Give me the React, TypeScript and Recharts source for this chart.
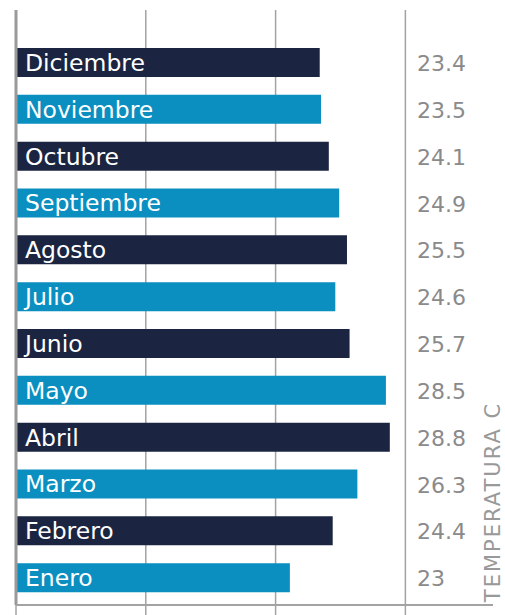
import {
  BarChart,
  Bar,
  XAxis,
  YAxis,
  CartesianGrid,
  LabelList,
  ReferenceLine,
  Cell,
} from "recharts";

// top to bottom, as drawn
const months = [
  "Diciembre",
  "Noviembre",
  "Octubre",
  "Septiembre",
  "Agosto",
  "Julio",
  "Junio",
  "Mayo",
  "Abril",
  "Marzo",
  "Febrero",
  "Enero",
];
// bar lengths (Enero is drawn shorter than its label)
const temps = [23.4, 23.5, 24.1, 24.9, 25.5, 24.6, 25.7, 28.5, 28.8, 26.3, 24.4, 21.1];
// numbers printed in the right column
const tempLabels = ["23.4", "23.5", "24.1", "24.9", "25.5", "24.6", "25.7", "28.5", "28.8", "26.3", "24.4", "23"];
const xTicks = [0, 10, 20, 30];

const barColors = ["#1b2541", "#0a8fc0"];
const gridColor = "#a3a3a3";

const data = months.map((m, i) => ({ month: m, temp: temps[i], label: tempLabels[i] }));

const renderValue = (props: any) => {
  const { y, height, value } = props;
  return (
    <text
      x={417}
      y={y + height / 2 + 1}
      dominantBaseline="central"
      fill="#8a8a8a"
      fontSize={22}
    >
      {value}
    </text>
  );
};

// ticks are lines only, no numbers
const noTickLabel = () => <g />;

const App = () => {
  return (
    <div style={{ position: "absolute", left: 0, top: 0 }}>
      <BarChart
        width={505}
        height={615}
        data={data}
        layout="vertical"
        margin={{ top: 10, right: 12, left: 16, bottom: 0 }}
        style={{ fontFamily: "DejaVu Sans" }}
      >
        <CartesianGrid
          horizontal={false}
          syncWithTicks
          stroke={gridColor}
          strokeWidth={1.5}
        />
        <XAxis
          type="number"
          domain={[0, 36.75]}
          ticks={xTicks}
          tick={noTickLabel}
          tickSize={10}
          height={10}
          axisLine={{ stroke: gridColor, strokeWidth: 2 }}
          tickLine={{ stroke: gridColor, strokeWidth: 1.5 }}
        />
        <YAxis
          type="category"
          dataKey="month"
          hide
          padding={{ top: 29, bottom: 4 }}
        />
        <Bar dataKey="temp" barSize={29} isAnimationActive={false}>
          {data.map((d, i) => (
            <Cell key={d.month} fill={barColors[i % 2]} />
          ))}
          <LabelList
            dataKey="month"
            position="insideLeft"
            offset={9}
            fill="#ffffff"
            fontSize={23.5}
          />
          <LabelList dataKey="label" content={renderValue} />
        </Bar>
        <ReferenceLine x={0} stroke="#9a9a9a" strokeWidth={3} />
        <text
          x={493}
          y={502}
          transform="rotate(-90 493 502)"
          textAnchor="middle"
          dominantBaseline="central"
          fill="#999999"
          fontSize={21}
          letterSpacing={2}
        >
          TEMPERATURA C
        </text>
      </BarChart>
    </div>
  );
};

export default App;
